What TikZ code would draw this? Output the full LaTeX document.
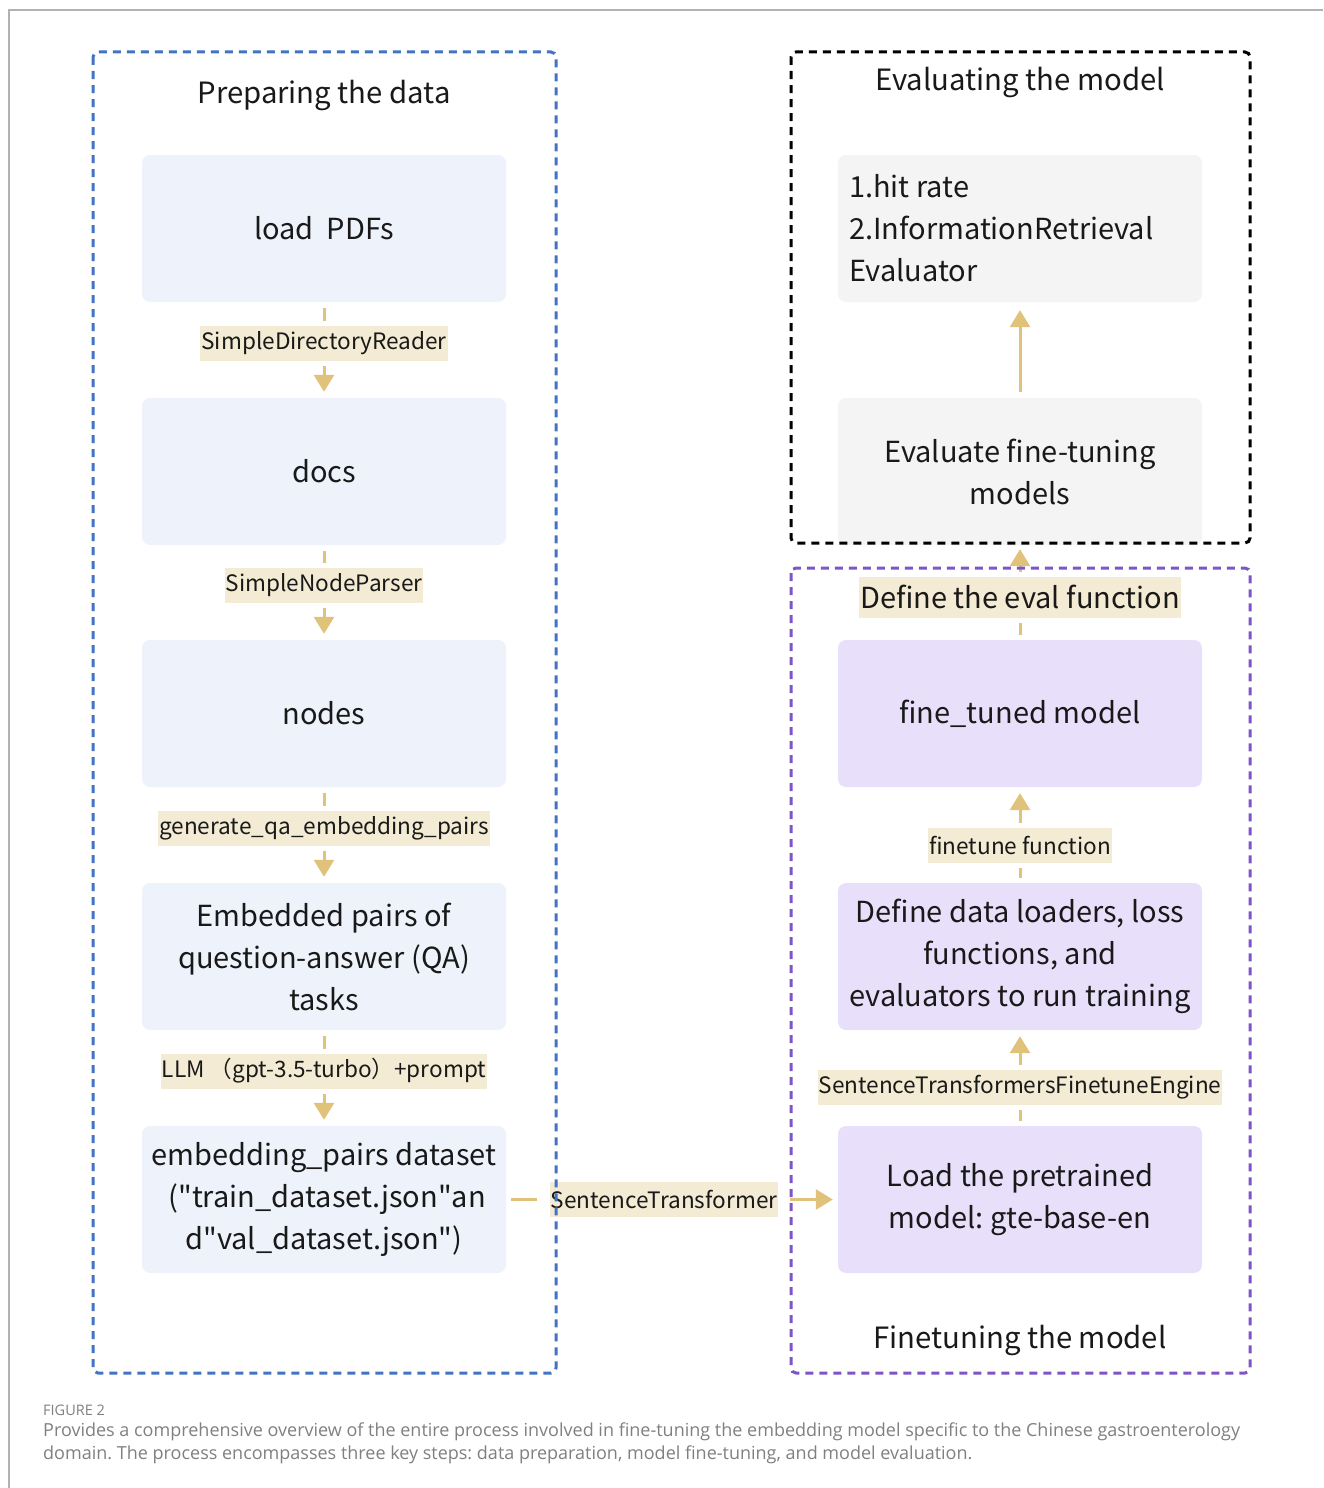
\documentclass[tikz,border=0pt]{standalone}
\usepackage{fontspec}
\setmainfont{Noto Sans CJK SC}
\newfontfamily\nsc{Noto Sans CJK SC}
\newfontfamily\capfont{Open Sans}
\usetikzlibrary{arrows.meta}
\frenchspacing
\definecolor{lblue}{RGB}{238,243,251}
\definecolor{lpurple}{RGB}{232,224,251}
\definecolor{lgray}{RGB}{244,244,244}
\definecolor{cream}{RGB}{243,235,211}
\definecolor{gold}{RGB}{224,194,122}
\definecolor{fblue}{RGB}{68,114,196}
\definecolor{fpurple}{RGB}{125,85,199}
\definecolor{captxt}{RGB}{128,128,128}
\tikzset{
  box/.style={rounded corners=8pt, minimum width=364pt, minimum height=147pt, inner sep=0pt, align=center, font=\nsc\frenchspacing\fontsize{29}{42}\selectfont, text=black!90},
  lbox/.style={box, fill=lblue},
  pbox/.style={box, fill=lpurple},
  gbox/.style={box, fill=lgray},
  lab/.style={fill=cream, inner xsep=1pt, inner ysep=0pt, minimum height=35pt, outer sep=5pt, font=\nsc\fontsize{22.6}{26}\selectfont, text=black!90},
  biglab/.style={lab, minimum height=41pt, font=\nsc\fontsize{29}{34}\selectfont},
  title/.style={font=\nsc\fontsize{29.3}{36}\selectfont, text=black!90},
  conn/.style={draw=gold, line width=3pt},
  arr/.style={conn, -{Triangle[width=20pt,length=17pt]}},
  frame/.style={line width=3pt, dash pattern=on 8pt off 6pt, rounded corners=5pt},
  captext/.style={anchor=west, inner sep=0pt, text=captxt},
}
\begin{document}
\begin{tikzpicture}[x=1pt,y=-1pt]
\useasboundingbox (0,0) rectangle (1323,1488);
\fill[white] (0,0) rectangle (1323,1488);
\draw[black!30, line width=1.5pt] (1323,10) -- (9,10) -- (9,1488);

% titles
\node[title] (t1) at (324,95.5) {Preparing the data};
\node[title] (t2) at (1020,82.5) {Evaluating the model};
\node[title] (t3) at (1020,1340.5) {Finetuning the model};

% left column
\node[lbox] (b1) at (324,228.5) {load\ \ PDFs};
\node[lbox] (b2) at (324,471.5) {docs};
\node[lbox] (b3) at (324,713.5) {nodes};
\node[lbox] (b4) at (324,956.5) {Embedded pairs of\\question-answer (QA)\\tasks};
\node[lbox] (b5) at (324,1199.5) {embedding\_pairs dataset\\\ ("train\_dataset.json"an\\d"val\_dataset.json")};

\node[lab] (l1) at (324,343) {SimpleDirectoryReader};
\node[lab] (l2) at (324,585) {SimpleNodeParser};
\node[lab] (l3) at (324,828) {generate\_qa\_embedding\_pairs};
\node[lab] (l4) at (324,1071) {LLM\ （gpt-3.5-turbo）+prompt};

% right column
\node[gbox, align=flush left, text width=342pt] (e1) at (1020,228.5) {1.hit rate\\2.InformationRetrieval\\Evaluator};
\node[gbox] (e2) at (1020,471.5) {Evaluate fine-tuning\\models};
\node[pbox] (f1) at (1020,713.5) {fine\_tuned model};
\node[pbox] (f2) at (1020,956.5) {Define data loaders, loss\\functions, and\\evaluators to run training};
\node[pbox] (f3) at (1020,1199.5) {Load the pretrained\\model: gte-base-en};

\node[biglab] (l5) at (1020,597) {Define the eval function};
\node[lab] (l6) at (1020,845) {finetune function};
\node[lab] (l7) at (1020,1087) {SentenceTransformersFinetuneEngine};
\node[lab] (l8) at (664,1199.5) {SentenceTransformer};

% connectors left
\draw[conn, shorten <=6pt] (b1) -- (l1);
\draw[arr, shorten >=6pt] (l1) -- (b2);
\draw[conn, shorten <=6pt] (b2) -- (l2);
\draw[arr, shorten >=6pt] (l2) -- (b3);
\draw[conn, shorten <=6pt] (b3) -- (l3);
\draw[arr, shorten >=6pt] (l3) -- (b4);
\draw[conn, shorten <=6pt] (b4) -- (l4);
\draw[arr, shorten >=6pt] (l4) -- (b5);

% connectors right
\draw[arr, shorten <=6pt, shorten >=8pt] (e2) -- (e1);
\draw[conn, shorten <=5pt] (f1) -- (l5);
\draw[arr, shorten >=4pt] (l5) -- (e2);
\draw[conn, shorten <=5pt] (f2) -- (l6);
\draw[arr, shorten >=6pt] (l6) -- (f1);
\draw[conn, shorten <=5pt] (f3) -- (l7);
\draw[arr, shorten >=6pt] (l7) -- (f2);

% horizontal
\draw[conn, shorten <=5pt, shorten >=8pt] (b5) -- (l8);
\draw[arr, shorten <=7pt, shorten >=5pt] (l8) -- (f3);

% frames
\draw[frame, fblue] (93,52) rectangle (556,1373);
\draw[frame, black] (791,52) rectangle (1250,543);
\draw[frame, fpurple] (791,568) rectangle (1250,1373);

% caption
\node[captext, font=\capfont\fontsize{14.5}{16}\selectfont] (cap0) at (43,1410) {FIGURE 2};
\node[captext, font=\capfont\frenchspacing\fontsize{18}{20}\selectfont] (cap1) at (43,1432) {Provides a comprehensive overview of the entire process involved in fine-tuning the embedding model specific to the Chinese gastroenterology};
\node[captext, font=\capfont\frenchspacing\fontsize{18}{20}\selectfont] (cap2) at (43,1455) {domain. The process encompasses three key steps: data preparation, model fine-tuning, and model evaluation.};
\end{tikzpicture}
\end{document}
